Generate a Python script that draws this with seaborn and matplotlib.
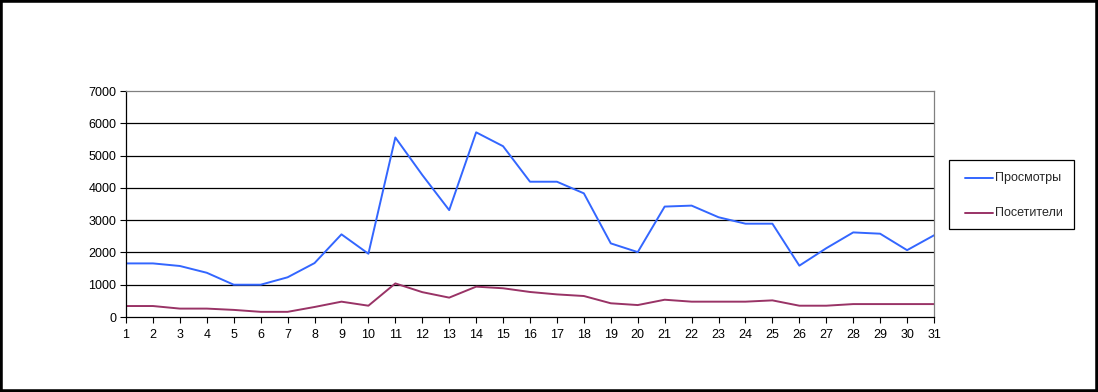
import matplotlib
matplotlib.use("Agg")
import matplotlib.pyplot as plt
import seaborn as sns
import pandas as pd
from matplotlib.patches import Rectangle

days = list(range(1, 32))
views = [1660, 1660, 1580, 1370, 1000, 1000, 1230, 1670, 2560, 1960,
         5560, 4400, 3310, 5720, 5290, 4190, 4190, 3830, 2280, 2010,
         3420, 3450, 3090, 2890, 2890, 1590, 2130, 2620, 2580, 2070, 2530]
visitors = [340, 340, 260, 260, 220, 160, 160, 310, 475, 350,
            1040, 770, 600, 940, 890, 775, 700, 650, 425, 370,
            535, 475, 475, 475, 515, 350, 350, 400, 400, 400, 400]
series_names = ["Просмотры", "Посетители"]
series_colors = ["#3366FF", "#993366"]

df = pd.DataFrame({"day": days * 2,
                   "value": views + visitors,
                   "series": [series_names[0]] * 31 + [series_names[1]] * 31})

sns.set_theme(style="white")
plt.rcParams["font.family"] = ["Liberation Sans", "DejaVu Sans"]

fig = plt.figure(figsize=(10.98, 3.92), dpi=100)
ax = fig.add_axes([126 / 1098, 1 - 317 / 392, (934 - 126) / 1098, (317 - 91) / 392])

sns.lineplot(data=df, x="day", y="value", hue="series",
             palette=series_colors, linewidth=1.4, ax=ax, legend=False)

ax.set_xlim(1, 31)
ax.set_ylim(0, 7000)
ax.set_xticks(days)
ax.set_yticks(range(0, 7001, 1000))
ax.set_xlabel("")
ax.set_ylabel("")
ax.tick_params(axis="both", labelsize=9, colors="black", length=4, width=0.8,
               direction="out", left=True, bottom=True)
ax.tick_params(axis="x", pad=5)
ax.tick_params(axis="y", pad=3)
for y in range(1000, 7000, 1000):
    ax.axhline(y, color="black", linewidth=0.9, zorder=0)
ax.spines["left"].set_color("black")
ax.spines["bottom"].set_color("black")
ax.spines["top"].set_color("#808080")
ax.spines["right"].set_color("#808080")
for s in ax.spines.values():
    s.set_linewidth(0.9)

# legend box
lx0, lx1, ly0, ly1 = 949 / 1098, 1074 / 1098, 1 - 229 / 392, 1 - 160 / 392
fig.patches.append(Rectangle((lx0, ly0), lx1 - lx0, ly1 - ly0, transform=fig.transFigure,
                             facecolor="white", edgecolor="black", linewidth=0.9))
for i, (name, col) in enumerate(zip(series_names, series_colors)):
    yy = 1 - (178 + i * 35) / 392
    fig.lines.append(plt.Line2D([965 / 1098, 993 / 1098], [yy, yy], transform=fig.transFigure,
                                color=col, linewidth=1.4))
    fig.text(995 / 1098, yy, name, fontsize=9, va="center", ha="left")

# outer frame
fig.patches.append(Rectangle((0, 0), 1, 1, transform=fig.transFigure, facecolor="none",
                             edgecolor="black", linewidth=4))

fig.savefig("out.png", dpi=100)
